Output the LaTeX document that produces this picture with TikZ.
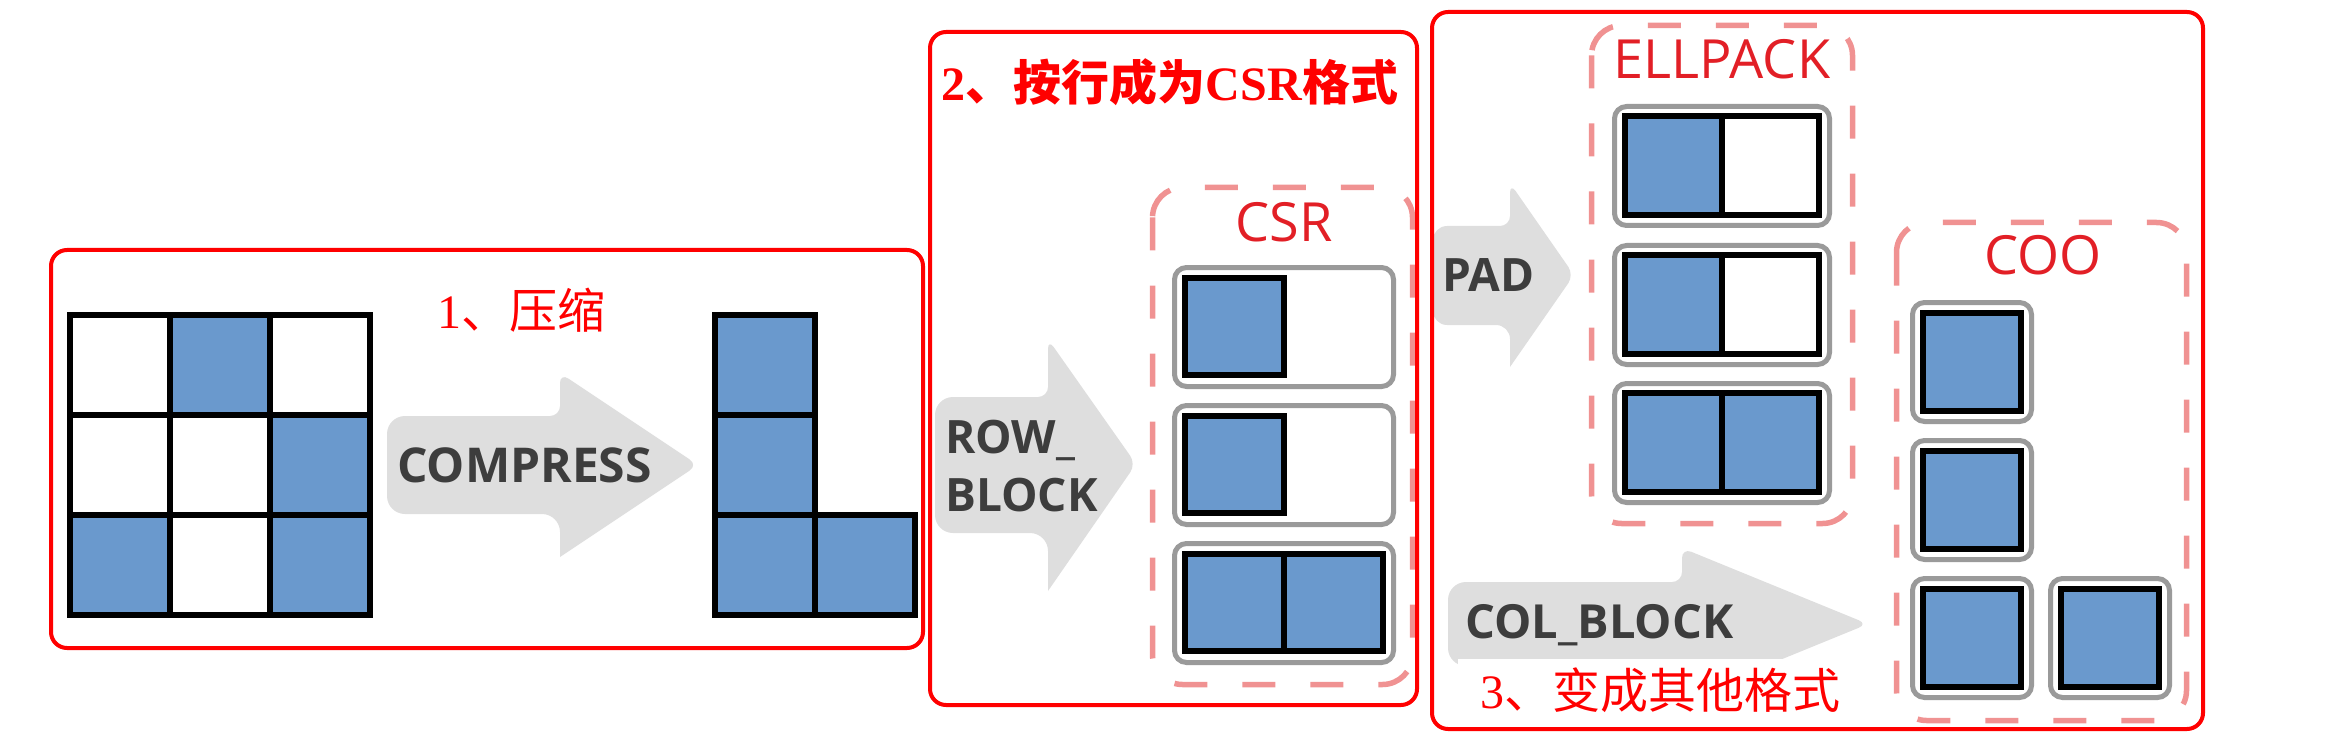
\documentclass[tikz,border=0pt]{standalone}
\usepackage{fontspec}
\setmainfont{Liberation Serif}
\newfontfamily\cjk{Noto Sans CJK SC}
\newfontfamily\osans{Open Sans}
\definecolor{boxred}{HTML}{FF0000}
\definecolor{dashpink}{HTML}{F09292}
\definecolor{boxgray}{HTML}{9A9A9A}
\definecolor{cellblue}{HTML}{6A99CD}
\definecolor{arrowgray}{HTML}{DEDEDE}
\definecolor{arrowtxt}{HTML}{3D3D3D}
\definecolor{labelred}{HTML}{E21F26}
\begin{document}
\begin{tikzpicture}[x=1pt,y=-1pt,
  redbox/.style={draw=boxred,line width=4,rounded corners=16},
  dashbox/.style={draw=dashpink,line width=5.5,dash pattern=on 33pt off 35pt,rounded corners=30},
  graybox/.style={draw=boxgray,line width=5,rounded corners=12,fill=white},
  bluecell/.style={draw=black,line width=6,fill=cellblue},
  whitecell/.style={draw=black,line width=6,fill=white},
  gridline/.style={draw=black,line width=6},
  arrowshape/.style={fill=arrowgray},
  arrowtext/.style={text=arrowtxt,font=\osans\bfseries\fontsize{46}{56}\selectfont,inner sep=0pt,anchor=base west},
  fmtlabel/.style={text=labelred,font=\osans\fontsize{54}{64}\selectfont,inner sep=0pt,anchor=base},
  titletext/.style={text=boxred,font=\fontsize{48}{58}\selectfont,inner sep=0pt}
]
\useasboundingbox (0,0) rectangle (2332,746);

% ---------- arrows ----------
\fill[arrowshape] (470,416) [rounded corners=18] -- (387,416) -- (387,514) -- (560,514) [sharp corners] -- (560,557) [rounded corners=10] -- (698,465) -- (560,373) -- (560,416) [sharp corners] -- cycle;
\fill[arrowshape] (990,397) [rounded corners=18] -- (935,397) -- (935,533) -- (1048,533) [sharp corners] -- (1048,591) [rounded corners=10] -- (1136,464) -- (1048,339) -- (1048,397) [sharp corners] -- cycle;
\fill[arrowshape] (1470,226) [rounded corners=14] -- (1433,226) -- (1433,325) -- (1510,325) [sharp corners] -- (1510,367) [rounded corners=10] -- (1574,275) -- (1510,183) -- (1510,226) [sharp corners] -- cycle;
\fill[arrowshape] (1560,582) [rounded corners=18] -- (1448,582) -- (1448,666) -- (1682,666) [sharp corners] -- (1682,700) [rounded corners=10] -- (1868,624) -- (1682,548) -- (1682,582) [sharp corners] -- cycle;

\node[arrowtext,font=\osans\bfseries\fontsize{48}{58}\selectfont] (compress) at (397,482) {COMPRESS};
\node[arrowtext] (row) at (945,453) {ROW\_};
\node[arrowtext] (block) at (945,511) {BLOCK};
\node[arrowtext] (pad) at (1442,291) {PAD};
\node[arrowtext,font=\osans\bfseries\fontsize{47}{57}\selectfont] (colblock) at (1465,638) {COL\_BLOCK};

% ---------- panel 1 ----------
\fill[cellblue] (170,315) rectangle (270,415);
\fill[cellblue] (270,415) rectangle (370,515);
\fill[cellblue] (70,515) rectangle (170,615);
\fill[cellblue] (270,515) rectangle (370,615);
\draw[gridline] (70,315) rectangle (370,615)
  (170,315) -- (170,615) (270,315) -- (270,615)
  (70,415) -- (370,415) (70,515) -- (370,515);

\fill[cellblue] (715,315) rectangle (815,615) (815,515) rectangle (915,615);
\draw[gridline] (715,315) -- (815,315) -- (815,515) -- (915,515) -- (915,615) -- (715,615) -- cycle
  (715,415) -- (815,415) (715,515) -- (815,515) (815,515) -- (815,615);

\node[titletext] (t1) at (521,310) {1\cjk 、压缩};

% ---------- panel 2 : CSR ----------
\foreach \y in {265,403,541}{
  \draw[graybox] (1174.5,\y+2.5) rectangle (1393.5,\y+121.5);
  \draw[bluecell] (1185,\y+13) rectangle (1284,\y+110);
}
\draw[bluecell] (1284,554) rectangle (1383,651);
\draw[dashbox] (1152.5,187.5) rectangle (1412.5,684.5);
\node[fmtlabel] (csr) at (1284,241) {CSR};
\node[titletext,font=\bfseries\fontsize{48}{58}\selectfont] (t2) at (1170,82) {2\cjk\bfseries 、按行成为\rmfamily\bfseries CSR\cjk\bfseries 格式};

% ---------- panel 3 : ELLPACK ----------
\foreach \y/\c in {104/whitecell,243/whitecell,381/bluecell}{
  \draw[graybox] (1614.5,\y+2.5) rectangle (1829.5,\y+121.5);
  \draw[bluecell] (1625,\y+12) rectangle (1722,\y+111);
  \draw[\c] (1722,\y+12) rectangle (1819,\y+111);
}
\draw[dashbox] (1591.5,25.5) rectangle (1852.5,523.5);
\node[fmtlabel] (ell) at (1722,79) {ELLPACK};

% ---------- panel 3 : COO ----------
\foreach \y in {300,438,576}{
  \draw[graybox] (1912.5,\y+2.5) rectangle (2031.5,\y+121.5);
  \draw[bluecell] (1923,\y+13) rectangle (2021,\y+111);
}
\draw[graybox] (2050.5,578.5) rectangle (2169.5,697.5);
\draw[bluecell] (2061,589) rectangle (2159,687);
\draw[dashbox] (1896.5,222.5) rectangle (2186.5,720.5);
\node[fmtlabel] (coo) at (2043,274) {COO};

\node[titletext,fill=white,minimum width=405,minimum height=62] (t3) at (1660,690) {3\cjk 、变成其他格式};

% ---------- red frames ----------
\draw[redbox] (51,250) rectangle (923,648);
\draw[redbox] (930,32) rectangle (1417,705);
\draw[redbox] (1432,12) rectangle (2203,729);
\end{tikzpicture}
\end{document}
